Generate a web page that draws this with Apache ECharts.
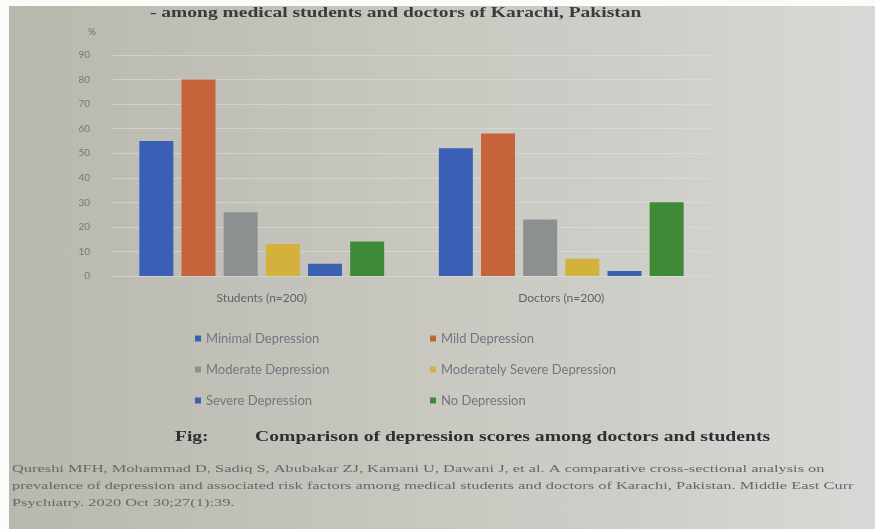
<!DOCTYPE html>
<html>
<head>
<meta charset="utf-8">
<script src="https://cdn.jsdelivr.net/npm/echarts@6/dist/echarts.min.js"></script>
<style>
  html, body { margin: 0; padding: 0; background: #fbfbf8; }
  #main {
    position: absolute; left: 9px; top: 6px; width: 866px; height: 523px;
    background: linear-gradient(90deg, #b9b8af 0%, #c6c5bd 40%, #cfcfca 75%, #d8d9d6 100%);
  }
</style>
</head>
<body>
<div id="main"></div>
<script>
// groups along the x axis
var groups = ['Students (n=200)', 'Doctors (n=200)'];
// series names (legend order)
var levels = ['Minimal Depression', 'Mild Depression', 'Moderate Depression',
  'Moderately Severe Depression', 'Severe Depression', 'No Depression'];
// percentages per group
var minimal = [55, 52];
var mild = [80, 58];
var moderate = [26, 23];
var modSevere = [13, 7];
var severe = [5, 2];
var none = [14, 30];
var yTicks = [0, 10, 20, 30, 40, 50, 60, 70, 80, 90];

var colors = ['#3b5fb5', '#c5643a', '#8d9091', '#d4b03c', '#3c60b2', '#3f8a37'];
var values = [minimal, mild, moderate, modSevere, severe, none];

var citation = [
  'Qureshi MFH, Mohammad D, Sadiq S, Abubakar ZJ, Kamani U, Dawani J, et al. A comparative cross-sectional analysis on',
  'prevalence of depression and associated risk factors among medical students and doctors of Karachi, Pakistan. Middle East Curr',
  'Psychiatry. 2020 Oct 30;27(1):39.'
];

var chart = echarts.init(document.getElementById('main'));

var series = [];
for (var i = 0; i < levels.length; i++) {
  series.push({
    name: levels[i],
    type: 'bar',
    data: values[i],
    barWidth: 34,
    barGap: '24%',
    itemStyle: { color: colors[i] }
  });
}

// the photo is stretched sideways, so the printed text is scaled in x
var serif = 'Liberation Serif';
var graphics = [
  {
    type: 'text', x: 141, y: 0, scaleX: 1.3,
    style: { text: '- among medical students and doctors of Karachi, Pakistan',
      font: 'bold 15px ' + serif, fill: '#3a3a40' }
  },
  {
    type: 'text', x: 166, y: 424, scaleX: 1.3,
    style: { text: 'Fig:', font: 'bold 15px ' + serif, fill: '#2e2e33' }
  },
  {
    type: 'text', x: 246, y: 424, scaleX: 1.31,
    style: { text: 'Comparison of depression scores among doctors and students',
      font: 'bold 15px ' + serif, fill: '#2e2e33' }
  }
];
for (var k = 0; k < citation.length; k++) {
  graphics.push({
    type: 'text', x: 3, y: 458 + k * 17, scaleX: 1.49,
    style: { text: citation[k], font: '11px ' + serif, fill: '#67676a' }
  });
}

var option = {
  animation: false,
  textStyle: { fontFamily: 'Lato' },
  graphic: graphics,
  legend: [
    {
      data: [levels[0], levels[2], levels[4]],
      orient: 'vertical', left: 181, top: 321, itemGap: 18,
      icon: 'rect', itemWidth: 6, itemHeight: 6,
      textStyle: { color: '#74767e', fontSize: 13 }
    },
    {
      data: [levels[1], levels[3], levels[5]],
      orient: 'vertical', left: 416, top: 321, itemGap: 18,
      icon: 'rect', itemWidth: 6, itemHeight: 6,
      textStyle: { color: '#74767e', fontSize: 13 }
    }
  ],
  grid: { left: 103, right: 164, top: 49, bottom: 253 },
  xAxis: {
    type: 'category',
    data: groups,
    axisLine: { show: false },
    axisTick: { show: false },
    axisLabel: { color: '#626366', fontSize: 12, margin: 16 }
  },
  yAxis: {
    type: 'value',
    min: yTicks[0], max: yTicks[yTicks.length - 1], interval: 10,
    name: '%',
    nameGap: 18,
    nameTextStyle: { color: '#6e6f73', fontSize: 10, align: 'right', padding: [0, 16, 0, 0] },
    axisLine: { show: false },
    axisTick: { show: false },
    axisLabel: { color: '#74767a', fontSize: 10, margin: 22 },
    splitLine: { lineStyle: { color: 'rgba(230,230,225,0.45)', width: 1 } }
  },
  series: series
};

chart.setOption(option);
</script>
</body>
</html>
